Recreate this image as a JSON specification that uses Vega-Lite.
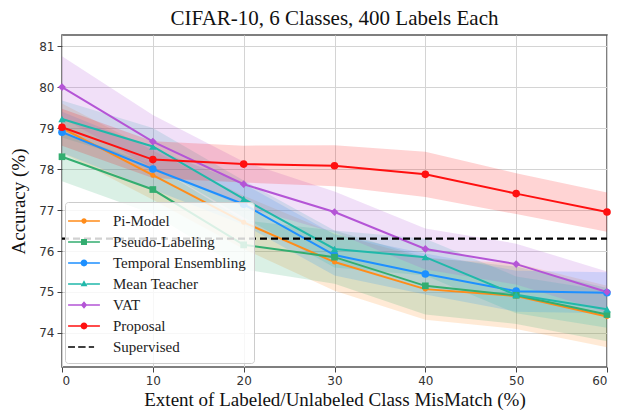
{
  "$schema": "https://vega.github.io/schema/vega-lite/v6.json",
  "width": 545,
  "height": 332,
  "autosize": {"type": "none"},
  "padding": {"left": 62, "top": 35, "right": 10, "bottom": 43},
  "background": "white",
  "title": {"text": "CIFAR-10, 6 Classes, 400 Labels Each", "font": "Liberation Serif", "fontSize": 21, "fontWeight": "normal", "color": "#111", "offset": 6, "anchor": "middle"},
  "config": {
    "view": {"stroke": "#555", "strokeWidth": 1.5},
    "axis": {"labelFont": "DejaVu Sans", "labelFontSize": 12, "labelColor": "#333", "titleFont": "Liberation Serif", "titleFontSize": 19, "titleFontWeight": "normal", "titleColor": "#111", "gridColor": "#d4d4d4", "gridWidth": 1, "tickColor": "#444", "tickSize": 5, "domain": false},
    "legend": {"labelFont": "Liberation Serif", "labelFontSize": 15, "labelColor": "#222", "padding": 8}
  },
  "data": {"values": [
    {"s": "Pi-Model", "x": 0, "y": 79.0, "lo": 78.4, "hi": 79.6},
    {"s": "Pi-Model", "x": 10, "y": 77.85, "lo": 77.25, "hi": 78.45},
    {"s": "Pi-Model", "x": 20, "y": 76.7, "lo": 76.05, "hi": 77.35},
    {"s": "Pi-Model", "x": 30, "y": 75.73, "lo": 75.03, "hi": 76.43},
    {"s": "Pi-Model", "x": 40, "y": 75.07, "lo": 74.32, "hi": 75.82},
    {"s": "Pi-Model", "x": 50, "y": 74.9, "lo": 74.1, "hi": 75.7},
    {"s": "Pi-Model", "x": 60, "y": 74.4, "lo": 73.65, "hi": 75.15},
    {"s": "Pseudo-Labeling", "x": 0, "y": 78.3, "lo": 77.7, "hi": 78.9},
    {"s": "Pseudo-Labeling", "x": 10, "y": 77.5, "lo": 76.9, "hi": 78.1},
    {"s": "Pseudo-Labeling", "x": 20, "y": 76.15, "lo": 75.55, "hi": 76.75},
    {"s": "Pseudo-Labeling", "x": 30, "y": 75.85, "lo": 75.2, "hi": 76.5},
    {"s": "Pseudo-Labeling", "x": 40, "y": 75.15, "lo": 74.45, "hi": 75.85},
    {"s": "Pseudo-Labeling", "x": 50, "y": 74.92, "lo": 74.22, "hi": 75.62},
    {"s": "Pseudo-Labeling", "x": 60, "y": 74.45, "lo": 73.8, "hi": 75.1},
    {"s": "Temporal Ensembling", "x": 0, "y": 78.9, "lo": 78.4, "hi": 79.4},
    {"s": "Temporal Ensembling", "x": 10, "y": 78.0, "lo": 77.5, "hi": 78.5},
    {"s": "Temporal Ensembling", "x": 20, "y": 77.14, "lo": 76.64, "hi": 77.64},
    {"s": "Temporal Ensembling", "x": 30, "y": 75.9, "lo": 75.4, "hi": 76.4},
    {"s": "Temporal Ensembling", "x": 40, "y": 75.44, "lo": 74.94, "hi": 75.94},
    {"s": "Temporal Ensembling", "x": 50, "y": 75.02, "lo": 74.52, "hi": 75.52},
    {"s": "Temporal Ensembling", "x": 60, "y": 74.98, "lo": 74.48, "hi": 75.48},
    {"s": "Mean Teacher", "x": 0, "y": 79.22, "lo": 78.77, "hi": 79.67},
    {"s": "Mean Teacher", "x": 10, "y": 78.55, "lo": 78.1, "hi": 79.0},
    {"s": "Mean Teacher", "x": 20, "y": 77.27, "lo": 76.82, "hi": 77.72},
    {"s": "Mean Teacher", "x": 30, "y": 76.05, "lo": 75.6, "hi": 76.5},
    {"s": "Mean Teacher", "x": 40, "y": 75.85, "lo": 75.4, "hi": 76.3},
    {"s": "Mean Teacher", "x": 50, "y": 74.93, "lo": 74.48, "hi": 75.38},
    {"s": "Mean Teacher", "x": 60, "y": 74.58, "lo": 74.13, "hi": 75.03},
    {"s": "VAT", "x": 0, "y": 80.0, "lo": 79.25, "hi": 80.75},
    {"s": "VAT", "x": 10, "y": 78.67, "lo": 78.02, "hi": 79.32},
    {"s": "VAT", "x": 20, "y": 77.63, "lo": 77.08, "hi": 78.18},
    {"s": "VAT", "x": 30, "y": 76.95, "lo": 76.45, "hi": 77.45},
    {"s": "VAT", "x": 40, "y": 76.05, "lo": 75.55, "hi": 76.55},
    {"s": "VAT", "x": 50, "y": 75.68, "lo": 75.18, "hi": 76.18},
    {"s": "VAT", "x": 60, "y": 75.0, "lo": 74.5, "hi": 75.5},
    {"s": "Proposal", "x": 0, "y": 79.02, "lo": 78.57, "hi": 79.47},
    {"s": "Proposal", "x": 10, "y": 78.23, "lo": 77.78, "hi": 78.68},
    {"s": "Proposal", "x": 20, "y": 78.12, "lo": 77.67, "hi": 78.57},
    {"s": "Proposal", "x": 30, "y": 78.08, "lo": 77.58, "hi": 78.58},
    {"s": "Proposal", "x": 40, "y": 77.87, "lo": 77.32, "hi": 78.42},
    {"s": "Proposal", "x": 50, "y": 77.4, "lo": 76.9, "hi": 77.9},
    {"s": "Proposal", "x": 60, "y": 76.95, "lo": 76.47, "hi": 77.43},
    {"s": "Supervised", "x": 0, "y": 76.3},
    {"s": "Supervised", "x": 60, "y": 76.3}
  ]},
  "encoding": {
    "x": {"field": "x", "type": "quantitative", "scale": {"domain": [0, 60], "nice": false, "zero": false}, "axis": {"values": [0, 10, 20, 30, 40, 50, 60], "title": "Extent of Labeled/Unlabeled Class MisMatch (%)", "titlePadding": 4, "labelPadding": 3}},
    "y": {"field": "y", "type": "quantitative", "scale": {"domain": [73.17, 81.27], "nice": false, "zero": false}, "axis": {"values": [74, 75, 76, 77, 78, 79, 80, 81], "title": "Accuracy (%)", "titlePadding": 10, "labelPadding": 3}}
  },
  "layer": [
    {
      "transform": [{"filter": "datum.s !== 'Supervised'"}],
      "mark": {"type": "area", "opacity": 0.18},
      "encoding": {
        "y": {"field": "lo", "type": "quantitative"},
        "y2": {"field": "hi"},
        "fill": {"field": "s", "type": "nominal", "legend": null, "scale": {"domain": ["Pi-Model", "Pseudo-Labeling", "Temporal Ensembling", "Mean Teacher", "VAT", "Proposal"], "range": ["#ff8c1a", "#33ad70", "#1e90ff", "#20b8aa", "#b455d6", "#ff1010"]}}
      }
    },
    {
      "transform": [{"filter": "datum.s !== 'Supervised'"}],
      "mark": {"type": "line", "strokeWidth": 2},
      "encoding": {
        "stroke": {"field": "s", "type": "nominal", "legend": null, "scale": {"domain": ["Pi-Model", "Pseudo-Labeling", "Temporal Ensembling", "Mean Teacher", "VAT", "Proposal"], "range": ["#ff8c1a", "#33ad70", "#1e90ff", "#20b8aa", "#b455d6", "#ff1010"]}}
      }
    },
    {
      "transform": [{"filter": "datum.s === 'Pi-Model'"}],
      "mark": {"type": "point", "filled": true, "opacity": 1, "shape": "circle", "size": 25},
      "encoding": {"fill": {"field": "s", "type": "nominal", "legend": null}}
    },
    {
      "transform": [{"filter": "datum.s === 'Temporal Ensembling' || datum.s === 'Proposal'"}],
      "mark": {"type": "point", "filled": true, "opacity": 1, "shape": "circle", "size": 58},
      "encoding": {"fill": {"field": "s", "type": "nominal", "legend": null}}
    },
    {
      "transform": [{"filter": "datum.s === 'Pseudo-Labeling'"}],
      "mark": {"type": "point", "filled": true, "opacity": 1, "shape": "square", "size": 45},
      "encoding": {"fill": {"field": "s", "type": "nominal", "legend": null}}
    },
    {
      "transform": [{"filter": "datum.s === 'Mean Teacher'"}],
      "mark": {"type": "point", "filled": true, "opacity": 1, "shape": "triangle-up", "size": 55},
      "encoding": {"fill": {"field": "s", "type": "nominal", "legend": null}}
    },
    {
      "transform": [{"filter": "datum.s === 'VAT'"}],
      "mark": {"type": "point", "filled": true, "opacity": 1, "shape": "diamond", "size": 60},
      "encoding": {"fill": {"field": "s", "type": "nominal", "legend": null}}
    },
    {
      "transform": [{"filter": "datum.s === 'Supervised'"}],
      "mark": {"type": "line", "strokeWidth": 2.2, "strokeDash": [7, 4], "color": "#000"},
      "encoding": {}
    },
    {
      "transform": [{"filter": "false"}],
      "mark": {"type": "point", "filled": true, "opacity": 1},
      "encoding": {
        "color": {"field": "s", "type": "nominal", "title": null,
          "scale": {"domain": ["Pi-Model", "Pseudo-Labeling", "Temporal Ensembling", "Mean Teacher", "VAT", "Proposal", "Supervised"], "range": ["#ff8c1a", "#33ad70", "#1e90ff", "#20b8aa", "#b455d6", "#ff1010", "#000000"]},
          "legend": {"orient": "none", "legendX": 3, "legendY": 167, "symbolSize": 450, "labelFont": "Liberation Serif", "labelFontSize": 15, "labelColor": "#222", "labelOffset": 18, "rowPadding": 2, "padding": 8, "fillColor": "rgba(255,255,255,0.82)", "strokeColor": "#cccccc", "cornerRadius": 3, "symbolStrokeWidth": 0, "symbolOpacity": 1}},
        "shape": {"field": "s", "type": "nominal", "title": null,
          "scale": {"domain": ["Pi-Model", "Pseudo-Labeling", "Temporal Ensembling", "Mean Teacher", "VAT", "Proposal", "Supervised"], "range": [
            "M-1.5,-0.07H-0.22V0.07H-1.5Z M0.22,-0.07H1.5V0.07H0.22Z M-0.25,0A0.25,0.25 0 1,1 0.25,0A0.25,0.25 0 1,1 -0.25,0Z",
            "M-1.5,-0.07H-0.26V0.07H-1.5Z M0.26,-0.07H1.5V0.07H0.26Z M-0.28,-0.28H0.28V0.28H-0.28Z",
            "M-1.5,-0.07H-0.28V0.07H-1.5Z M0.28,-0.07H1.5V0.07H0.28Z M-0.32,0A0.32,0.32 0 1,1 0.32,0A0.32,0.32 0 1,1 -0.32,0Z",
            "M-1.5,-0.07H-0.22V0.07H-1.5Z M0.22,-0.07H1.5V0.07H0.22Z M0,-0.36L0.32,0.22L-0.32,0.22Z",
            "M-1.5,-0.07H-0.22V0.07H-1.5Z M0.22,-0.07H1.5V0.07H0.22Z M0,-0.36L0.3,0L0,0.36L-0.3,0Z",
            "M-1.5,-0.07H-0.28V0.07H-1.5Z M0.28,-0.07H1.5V0.07H0.28Z M-0.32,0A0.32,0.32 0 1,1 0.32,0A0.32,0.32 0 1,1 -0.32,0Z",
            "M-1.5,-0.08H-0.85V0.08H-1.5Z M-0.55,-0.08H0.15V0.08H-0.55Z M0.45,-0.08H0.95V0.08H0.45Z"
          ]},
          "legend": {"orient": "none", "legendX": 3, "legendY": 167, "symbolSize": 450, "labelFont": "Liberation Serif", "labelFontSize": 15, "labelColor": "#222", "labelOffset": 18, "rowPadding": 2, "padding": 8, "fillColor": "rgba(255,255,255,0.82)", "strokeColor": "#cccccc", "cornerRadius": 3, "symbolStrokeWidth": 0, "symbolOpacity": 1}}
      }
    }
  ]
}
